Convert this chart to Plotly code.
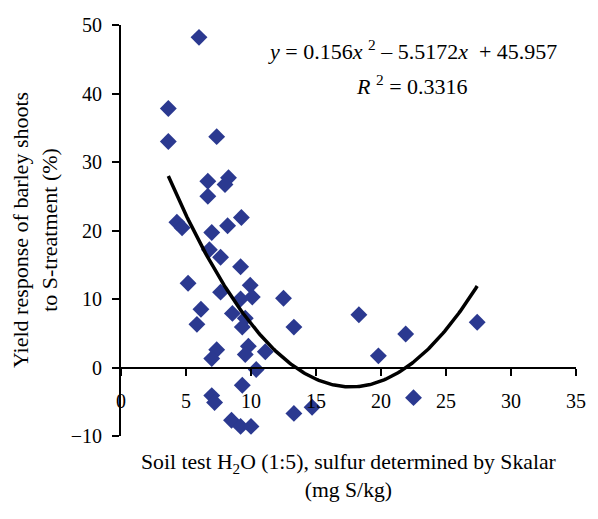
import numpy as np
import plotly.graph_objects as go

# Soil test S (mg S/kg) and yield response (%)
soil_s = [6.0, 3.64, 3.64, 7.36, 6.68, 8.27, 8.0, 6.68, 9.26, 4.3, 4.7, 6.98, 8.2,
          6.8, 7.66, 9.2, 5.16, 7.66, 9.94, 10.1, 9.2, 12.5, 6.15, 5.84, 8.57, 9.56,
          9.33, 13.3, 7.36, 6.98, 9.8, 9.56, 11.1, 10.4, 9.33, 6.98, 7.2, 8.5, 9.2,
          10.0, 13.3, 18.3, 21.9, 19.8, 27.4, 22.5, 14.7]
response = [48.2, 37.8, 33.0, 33.7, 27.2, 27.7, 26.7, 25.0, 21.9, 21.2, 20.4, 19.7, 20.7,
            17.2, 16.1, 14.7, 12.3, 11.0, 12.0, 10.3, 10.0, 10.1, 8.5, 6.3, 7.9, 7.2,
            5.9, 5.9, 2.6, 1.3, 3.1, 1.9, 2.3, -0.3, -2.6, -4.1, -5.1, -7.7, -8.6,
            -8.6, -6.7, 7.7, 4.9, 1.7, 6.6, -4.4, -5.8]

# Polynomial trendline coefficients as displayed on the chart
coef_a, coef_b, coef_c = 0.156, -5.5172, 45.957
r_squared = 0.3316

x_ticks = [0, 5, 10, 15, 20, 25, 30, 35]
y_ticks = [-10, 0, 10, 20, 30, 40, 50]

FONT = "Liberation Serif, Times New Roman, serif"

xs = np.linspace(min(soil_s), max(soil_s), 200)
ys = np.polyval([coef_a, coef_b, coef_c], xs)

fig = go.Figure()
fig.add_trace(go.Scatter(x=soil_s, y=response, mode="markers",
                         marker=dict(symbol="diamond", size=13, color="#2B3990"),
                         showlegend=False, hoverinfo="x+y"))
fig.add_trace(go.Scatter(x=xs, y=ys, mode="lines",
                         line=dict(color="black", width=3.5),
                         showlegend=False, hoverinfo="skip"))

fig.update_layout(
    width=598, height=519,
    margin=dict(l=121, r=16, t=25, b=83),
    paper_bgcolor="white", plot_bgcolor="white",
    font=dict(family=FONT, size=20, color="black"),
    xaxis=dict(range=[0, 35], tickvals=x_ticks, showgrid=False, zeroline=False,
               showline=True, linecolor="black", linewidth=2,
               ticks="outside", ticklen=7, tickwidth=2, tickcolor="black",
               anchor="free", position=10/60, ticklabelstandoff=8,
               tickfont=dict(family=FONT, size=20)),
    yaxis=dict(range=[-10, 50], tickvals=y_ticks, showgrid=False, zeroline=False,
               showline=True, linecolor="black", linewidth=2,
               ticks="outside", ticklen=7, tickwidth=2, tickcolor="black",
               ticklabelstandoff=6,
               tickfont=dict(family=FONT, size=20)),
    annotations=[
        dict(text="<i>y</i> = 0.156<i>x</i> <sup>2</sup> – 5.5172<i>x</i>  + 45.957",
             xref="paper", yref="paper", x=0.64, y=0.939, showarrow=False,
             xanchor="center", yanchor="middle", align="center",
             font=dict(family=FONT, size=22)),
        dict(text="<i>R</i> <sup>2</sup> = 0.3316",
             xref="paper", yref="paper", x=0.64, y=0.854, showarrow=False,
             xanchor="center", yanchor="middle", align="center",
             font=dict(family=FONT, size=22)),
        dict(text="Soil test H<sub>2</sub>O (1:5), sulfur determined by Skalar<br>(mg S/kg)",
             xref="paper", yref="paper", x=0.50, y=-0.097, showarrow=False,
             xanchor="center", yanchor="middle", align="center",
             font=dict(family=FONT, size=21.7)),
        dict(text="Yield response of barley shoots<br>to S-treatment (%)",
             xref="paper", yref="paper", x=-0.19, y=0.5, showarrow=False,
             textangle=-90, xanchor="center", yanchor="middle", align="center",
             font=dict(family=FONT, size=22)),
    ],
)

fig.write_html("out.html")
